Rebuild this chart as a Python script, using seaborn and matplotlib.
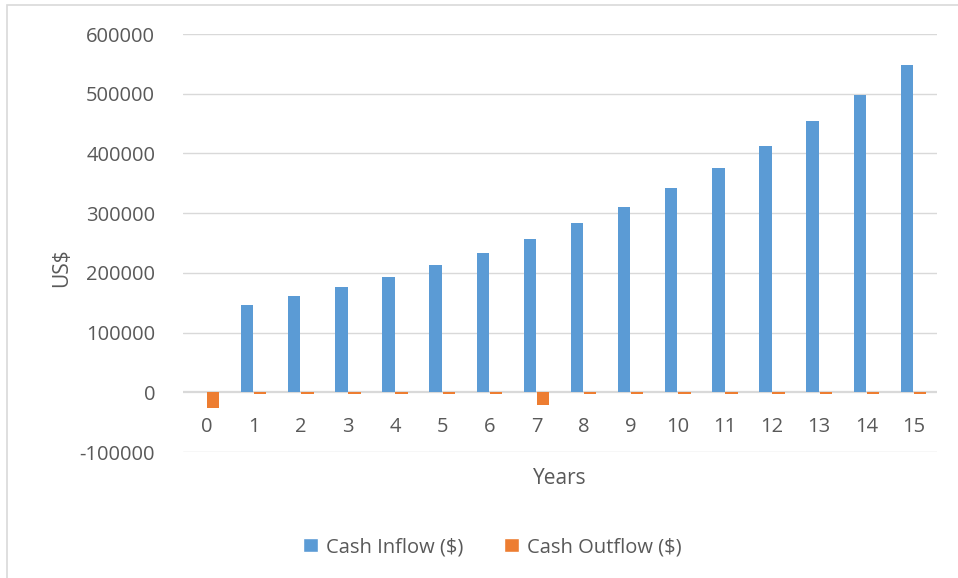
import matplotlib
matplotlib.use("Agg")
import matplotlib.pyplot as plt
import seaborn as sns
import pandas as pd
from matplotlib.patches import Rectangle, Patch

years = [str(y) for y in range(16)]
cash_inflow = [0, 146000, 161000, 176000, 193000, 213000, 234000, 257000, 283000,
               310000, 342000, 375000, 412000, 454000, 498000, 548000]
cash_outflow = [-27000, -3000, -3000, -3000, -3000, -3000, -3000, -22000, -3000,
                -3000, -3000, -3000, -3000, -3000, -3000, -3000]
series_names = ["Cash Inflow ($)", "Cash Outflow ($)"]
y_ticks = [-100000, 0, 100000, 200000, 300000, 400000, 500000, 600000]

df = pd.DataFrame({
    "Years": years * 2,
    "Value": cash_inflow + cash_outflow,
    "Series": [series_names[0]] * 16 + [series_names[1]] * 16,
})

sns.set_theme(style="white")
plt.rcParams["font.family"] = ["Open Sans", "DejaVu Sans"]
text_color = "#595959"
grid_color = "#d9d9d9"

fig = plt.figure(figsize=(9.58, 5.78), dpi=100)
ax = fig.add_axes([183 / 958, 1 - 452 / 578, (937 - 183) / 958, (452 - 34) / 578])

sns.barplot(data=df, x="Years", y="Value", hue="Series", order=years,
            hue_order=series_names, palette=["#5B9BD5", "#ED7D31"],
            width=0.56, gap=0.06, ax=ax, saturation=1, legend=False,
            linewidth=0, zorder=2)

ax.set_ylim(-100000, 600000)
ax.set_xlim(-0.5, 15.5)
ax.set_yticks(y_ticks)
ax.set_yticklabels([str(v) for v in y_ticks])
for v in y_ticks:
    if v != 0:
        ax.axhline(v, color=grid_color, lw=1.0, zorder=0)
ax.axhline(0, color=grid_color, lw=1.6, zorder=1)

for s in ax.spines.values():
    s.set_visible(False)
ax.tick_params(axis="y", length=0, pad=20, labelsize=14.5, labelcolor=text_color)
ax.tick_params(axis="x", length=0, labelsize=14.5, labelcolor=text_color)
ax.spines["bottom"].set_position(("data", 0))
ax.tick_params(axis="x", pad=18)

ax.set_xlabel("")
ax.set_ylabel("")
fig.text(560 / 958, 1 - 478 / 578, "Years", ha="center", va="center",
         fontsize=15, color=text_color)
fig.text(62 / 958, 1 - 268 / 578, "US$", ha="center", va="center",
         rotation=90, fontsize=15, color=text_color)

handles = [Patch(facecolor="#5B9BD5"), Patch(facecolor="#ED7D31")]
leg = fig.legend(handles, series_names, loc="center", ncol=2,
                 bbox_to_anchor=(492 / 958, 1 - 547 / 578), frameon=False,
                 fontsize=14.5, handlelength=0.75, handleheight=0.75,
                 handletextpad=0.4, columnspacing=2.0)
for t in leg.get_texts():
    t.set_color(text_color)

fig.patches.append(Rectangle((7 / 958, -0.01), 1.0, 1 - 5 / 578 + 0.01,
                             transform=fig.transFigure, fill=False,
                             edgecolor=grid_color, lw=1.2))

fig.savefig("out.png", dpi=100)
